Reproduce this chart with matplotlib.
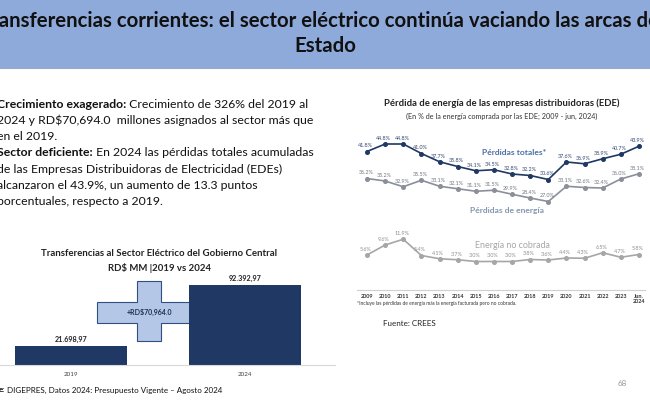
import matplotlib.pyplot as plt
from matplotlib.patches import Polygon, Rectangle
import numpy as np

# --- datos ---
anios_barras = ["2019", "2024"]
transferencias = [21698.97, 92392.97]
etiquetas_barras = ["21.698,97", "92.392,97"]
diferencia = "+RD$70,964.0"

anios = ["2009", "2010", "2011", "2012", "2013", "2014", "2015", "2016",
         "2017", "2018", "2019", "2020", "2021", "2022", "2023", "Jun.\n2024"]
perdidas_totales = [41.8, 44.8, 44.8, 41.0, 37.7, 35.8, 34.1, 34.5,
                    32.8, 32.2, 30.6, 37.6, 36.9, 38.9, 40.7, 43.9]
perdidas_energia = [36.2, 35.2, 32.9, 35.5, 33.1, 32.1, 31.1, 31.5,
                    29.9, 28.4, 27.0, 33.1, 32.6, 32.4, 36.0, 38.1]
no_cobrada = [5.6, 9.6, 11.9, 5.4, 4.1, 3.7, 3.0, 3.0,
              3.0, 3.8, 3.6, 4.4, 4.3, 6.5, 4.7, 5.8]

W, H = 650, 400
fig = plt.figure(figsize=(W / 100, H / 100), dpi=100)
fig.patch.set_facecolor("white")

FONT = ["Lato", "DejaVu Sans"]
NAVY = "#1f3864"


def axes_px(left, top, right, bottom):
    return fig.add_axes([left / W, 1 - bottom / H, (right - left) / W, (bottom - top) / H])


# fondo / cabecera
bg = fig.add_axes([0, 0, 1, 1])
bg.set_xlim(0, W)
bg.set_ylim(H, 0)
bg.axis("off")
bg.add_patch(Rectangle((0, 0), W, 67, color="#8eaadb", zorder=0))
bg.plot([0, W], [67.5, 67.5], color="#9aa9c4", lw=0.8)
bg.text(322, 21, "Transferencias corrientes: el sector eléctrico continúa vaciando las arcas del",
        ha="center", va="center", fontsize=14.7, fontweight="bold", family=FONT, color="#111111")
bg.text(325, 46, "Estado", ha="center", va="center", fontsize=14.7,
        fontweight="bold", family=FONT, color="#111111")

# texto de viñetas (cortado a la izquierda como en la diapositiva)
lineas = [
    ("Crecimiento exagerado:", " Crecimiento de 326% del 2019 al"),
    ("", "2024 y RD$70,694.0  millones asignados al sector más que"),
    ("", "en el 2019."),
    ("Sector deficiente:", " En 2024 las pérdidas totales acumuladas"),
    ("", "de las Empresas Distribuidoras de Electricidad (EDEs)"),
    ("", "alcanzaron el 43.9%, un aumento de 13.3 puntos"),
    ("", "porcentuales, respecto a 2019."),
]
for i, (negrita, normal) in enumerate(lineas):
    y = 104 + i * 16.3
    if negrita:
        t = bg.text(-3, y, negrita, ha="left", va="center", fontsize=8.85,
                    fontweight="bold", family=FONT, color="#111111")
        bg.annotate(normal, xy=(1, 0), xycoords=t, ha="left", va="bottom",
                    fontsize=8.85, family=FONT, color="#111111")
    else:
        bg.text(-3, y, normal, ha="left", va="center", fontsize=8.85,
                family=FONT, color="#111111")

# --- gráfico de barras ---
bg.text(159, 253, "Transferencias al Sector Eléctrico del Gobierno Central",
        ha="center", va="center", fontsize=6.9, fontweight="bold", family=FONT, color="#222222")
bg.text(159, 268, "RD$ MM |2019 vs 2024", ha="center", va="center", fontsize=6.9,
        fontweight="bold", family=FONT, color="#222222")

axb = axes_px(0, 275, 335, 365)
xb = np.arange(len(anios_barras))
axb.bar(xb, transferencias, width=0.64, color=NAVY, zorder=2)
axb.set_xlim(-71 / 174, 264 / 174)
axb.set_ylim(0, 92392.97 * 90 / 80)
for s in ["top", "right", "left"]:
    axb.spines[s].set_visible(False)
axb.spines["bottom"].set_color("#d9d9d9")
axb.set_yticks([])
axb.set_xticks(xb)
axb.set_xticklabels(anios_barras, fontsize=4.5, family=FONT, color="#444444")
axb.tick_params(axis="x", length=0, pad=5)
axb.patch.set_alpha(0)
for xi, v, lab in zip(xb, transferencias, etiquetas_barras):
    axb.annotate(lab, (xi, v), xytext=(0, 2.5), textcoords="offset points",
                 ha="center", va="bottom", fontsize=5.2, fontweight="bold",
                 family=FONT, color="#222222")

# cruz
cruz = [(137, 281), (161, 281), (161, 302), (198, 302), (198, 323), (161, 323),
        (161, 341), (137, 341), (137, 323), (97, 323), (97, 302), (137, 302)]
bg.add_patch(Polygon(cruz, closed=True, facecolor="#b4c7e7", edgecolor="#2f4f80",
                     lw=0.8, zorder=5))
bg.text(149, 312, diferencia, ha="center", va="center", fontsize=5,
        fontweight="bold", family=FONT, color="#1f2f4f", zorder=6)

bg.text(-1, 390, "e:", ha="left", va="center", fontsize=5.8, fontweight="bold",
        family=FONT, color="#111111")
bg.text(7, 390, "DIGEPRES, Datos 2024: Presupuesto Vigente – Agosto 2024",
        ha="left", va="center", fontsize=5.8, family=FONT, color="#111111")

# --- gráfico de líneas ---
bg.text(502, 103, "Pérdida de energía de las empresas distribuidoras (EDE)",
        ha="center", va="center", fontsize=6.8, fontweight="bold", family=FONT, color="#222222")
bg.text(502, 116, "(En % de la energía comprada por las EDE; 2009 - jun, 2024)",
        ha="center", va="center", fontsize=5.2, family=FONT, color="#333333")

axl = axes_px(357, 130, 645, 290)
axl.patch.set_alpha(0)
x = np.arange(len(anios))
axl.set_xlim(-10 / 18.13, 278 / 18.13)
axl.set_ylim(-21 / 2.5, 139 / 2.5)
axt = axl.twinx()
axt.set_ylim(-34 / 2.5, 126 / 2.5)

series = [
    (axl, no_cobrada, "#a6a6a6", "#8c8c8c"),
    (axl, perdidas_energia, "#8a8f99", "#6f7580"),
    (axt, perdidas_totales, NAVY, "#2f4470"),
]
for ax, vals, col, tcol in series:
    ax.plot(x, vals, color=col, lw=1.2, marker="o", ms=2.6, zorder=3)
    for xi, v in zip(x, vals):
        ax.annotate(f"{v:.1f}%", (xi, v), xytext=(-1, 2.3), textcoords="offset points",
                    ha="center", va="bottom", fontsize=3.9, family=FONT, color=tcol)

for ax in (axl, axt):
    for s in ["top", "right", "left"]:
        ax.spines[s].set_visible(False)
    ax.set_yticks([])
axt.spines["bottom"].set_visible(False)
axl.spines["bottom"].set_color("#d0d0d0")
axl.set_xticks(x)
axl.set_xticklabels(anios, fontsize=3.9, fontweight="bold", family=FONT,
                    color="#333333", linespacing=1.0)
axl.tick_params(axis="x", length=0, pad=3)
for lab in axl.get_xticklabels():
    lab.set_verticalalignment("top")

axt.text(8.1, 41.5, "Pérdidas totales*", ha="center", va="center", fontsize=6.1,
         fontweight="bold", family=FONT, color="#4a6fa8")
axl.text(7.7, 23.6, "Pérdidas de energía", ha="center", va="center", fontsize=6.1,
         fontweight="bold", family=FONT, color="#8497b0")
axl.text(8.0, 9.3, "Energía no cobrada", ha="center", va="center", fontsize=6.4,
         family=FONT, color="#a6a6a6")

bg.text(357, 303, "*Incluye las pérdidas de energía más la energía facturada pero no cobrada.",
        ha="left", va="center", fontsize=3.5, family=FONT, color="#333333")
bg.text(383, 323, "Fuente: CREES", ha="left", va="center", fontsize=5.8,
        family=FONT, color="#222222")
bg.text(622, 383, "68", ha="center", va="center", fontsize=5.8, family=FONT, color="#999999")

fig.savefig("out.png", dpi=100)
